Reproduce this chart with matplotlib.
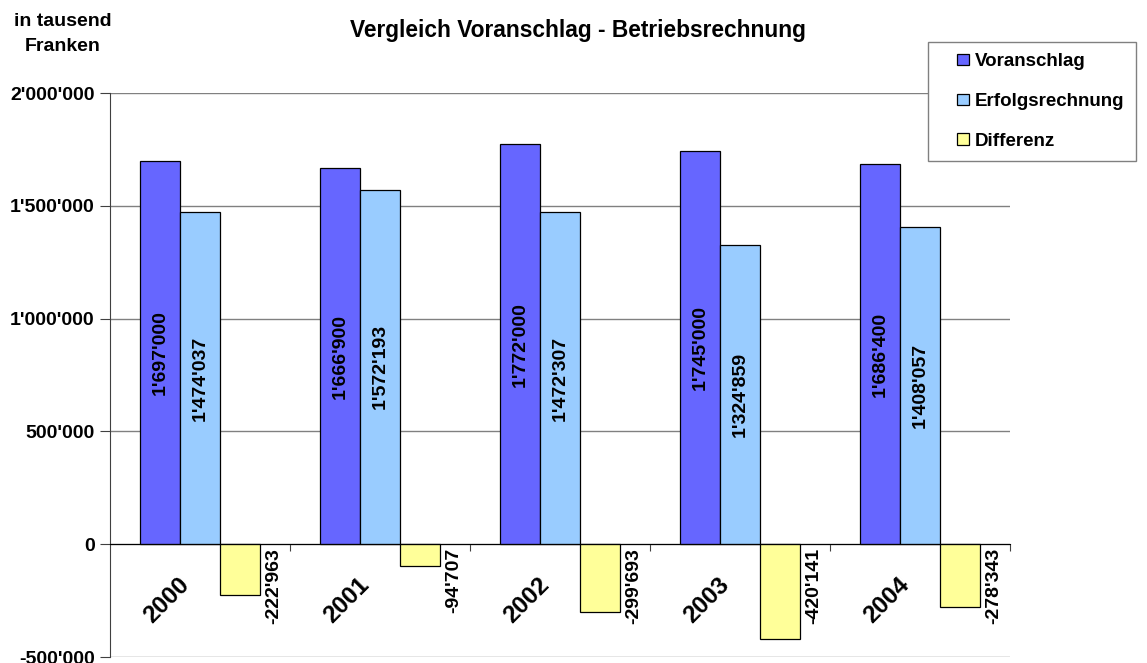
#!/usr/bin/env python3
# plot.py - Vergleich Voranschlag / Betriebsrechnung

import numpy as np
import matplotlib
matplotlib.use("Agg")
import matplotlib.pyplot as plt
import matplotlib.patches as mpatches
from matplotlib.container import BarContainer
from matplotlib.legend_handler import HandlerPatch, update_from_first_child
from matplotlib.ticker import FuncFormatter, FixedLocator

plt.rcParams["font.family"] = ["Liberation Sans", "DejaVu Sans"]
plt.rcParams["font.weight"] = "bold"

# Data (in tausend Franken)
years = ["2000", "2001", "2002", "2003", "2004"]
voranschlag = [1697000, 1666900, 1772000, 1745000, 1686400]
erfolgsrechnung = [1474037, 1572193, 1472307, 1324859, 1408057]
differenz = [-222963, -94707, -299693, -420141, -278343]
y_ticks = [-500000, 0, 500000, 1000000, 1500000, 2000000]


def swiss(v):
    # 1'234'567 style
    return f"{int(v):,}".replace(",", "'")


def square_handle(legend, orig_handle, xdescent, ydescent, width, height, fontsize):
    # small square pushed to the right end of the handle box
    s = 0.6 * fontsize
    return mpatches.Rectangle((-xdescent + width - s, -ydescent + (height - s) / 2), s, s)


def plot(ax):
    x = np.arange(len(years))
    w = 40 / 180
    series = [
        (voranschlag, "Voranschlag", "#6666FF", -w),
        (erfolgsrechnung, "Erfolgsrechnung", "#99CCFF", 0),
        (differenz, "Differenz", "#FFFF99", w),
    ]
    for vals, name, col, off in series:
        bars = ax.bar(x + off, vals, w, color=col, edgecolor="black",
                      linewidth=0.9, label=name, zorder=3)
        for b, v in zip(bars, vals):
            if v >= 0:
                ax.text(b.get_x() + b.get_width() / 2, v / 2, swiss(v),
                        rotation=90, ha="center", va="center",
                        fontsize=14, fontweight="bold", zorder=4)
            else:
                ax.annotate(swiss(v), xy=(b.get_x() + b.get_width(), 0),
                            xytext=(4, -2.5), textcoords="offset points",
                            rotation=90, ha="left", va="top",
                            fontsize=14, fontweight="bold", zorder=4)

    # year labels, rotated under the zero line
    for i, yr in enumerate(years):
        ax.annotate(yr, xy=(i, 0), xytext=(-16.5, -21), textcoords="offset points",
                    rotation=45, rotation_mode="anchor", ha="right", va="top",
                    fontsize=17.5, fontweight="bold")

    ax.set_xlim(-0.5, len(years) - 0.5)
    ax.set_ylim(-500000, 2000000)
    ax.yaxis.set_major_locator(FixedLocator(y_ticks))
    ax.yaxis.set_major_formatter(FuncFormatter(lambda v, p: swiss(v)))
    ax.grid(axis="y", color="#808080", linewidth=1, zorder=0)
    ax.tick_params(axis="y", labelsize=14, length=7, color="#404040",
                   direction="out", pad=4)

    ax.set_xticks(np.arange(len(years)) + 0.5)
    ax.set_xticklabels([])
    ax.tick_params(axis="x", length=5, color="#404040", direction="out")

    ax.spines["top"].set_visible(False)
    ax.spines["right"].set_visible(False)
    ax.spines["bottom"].set_position(("data", 0))
    ax.spines["bottom"].set_color("black")
    ax.spines["bottom"].set_zorder(5)
    ax.spines["left"].set_color("#404040")
    for lab in ax.get_yticklabels():
        lab.set_fontweight("bold")


def main():
    fig = plt.figure(figsize=(11.47, 6.63), dpi=100)
    ax = fig.add_axes([110 / 1147, 1 - 657 / 663, 900 / 1147, 564 / 663])
    plot(ax)

    fig.text(578 / 1147, 1 - 31 / 663, "Vergleich Voranschlag - Betriebsrechnung",
             ha="center", va="center", fontsize=16.4, fontweight="bold")
    fig.text(63 / 1147, 1 - 34 / 663, "in tausend\nFranken", ha="center",
             va="center", fontsize=14, fontweight="bold", linespacing=1.6)

    sq = HandlerPatch(patch_func=square_handle, update_func=update_from_first_child)
    leg = ax.legend(loc="upper left", bbox_to_anchor=(928 / 1147, 1 - 42 / 663),
                    bbox_transform=fig.transFigure, borderaxespad=0,
                    prop={"weight": "bold", "size": 13.5},
                    handler_map={BarContainer: sq},
                    handlelength=1.57, handleheight=0.7, handletextpad=0.35,
                    labelspacing=1.2, borderpad=0.6, fancybox=False,
                    framealpha=1, edgecolor="#808080")
    leg.get_frame().set_linewidth(1)
    leg.set_zorder(10)

    fig.savefig("out.png", dpi=100)


if __name__ == "__main__":
    main()
